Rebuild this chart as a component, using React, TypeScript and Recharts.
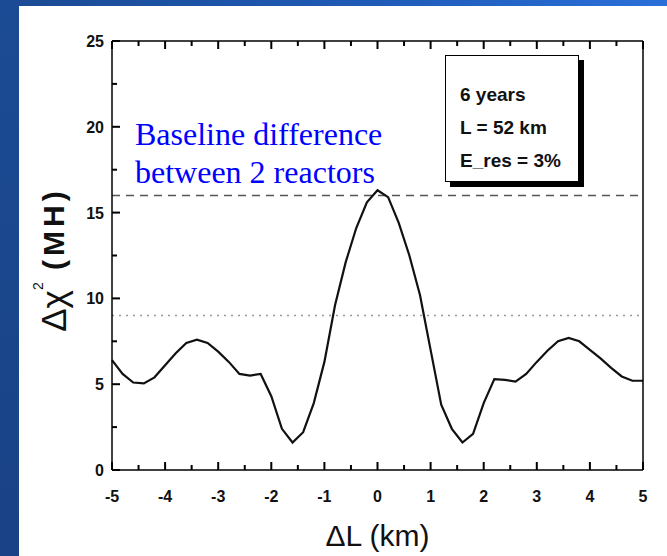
import React from 'react';
import { LineChart, Line, XAxis, YAxis, ReferenceLine, Label } from 'recharts';

// ΔL (km) sampled every 0.2 km
const deltaL = [
  -5.0, -4.8, -4.6, -4.4, -4.2, -4.0, -3.8, -3.6, -3.4, -3.2, -3.0, -2.8, -2.6, -2.4, -2.2, -2.0, -1.8,
  -1.6, -1.4, -1.2, -1.0, -0.8, -0.6, -0.4, -0.2, 0.0, 0.2, 0.4, 0.6, 0.8, 1.0, 1.2, 1.4, 1.6, 1.8, 2.0,
  2.2, 2.4, 2.6, 2.8, 3.0, 3.2, 3.4, 3.6, 3.8, 4.0, 4.2, 4.4, 4.6, 4.8, 5.0,
];
// Δχ² (MH)
const deltaChi2 = [
  6.4, 5.6, 5.1, 5.05, 5.4, 6.1, 6.8, 7.4, 7.6, 7.4, 6.9, 6.3, 5.6, 5.5, 5.6, 4.3, 2.4,
  1.6, 2.2, 3.9, 6.3, 9.6, 12.1, 14.1, 15.6, 16.3, 15.9, 14.4, 12.5, 10.2, 7.0, 3.8, 2.4, 1.6, 2.1, 3.9,
  5.3, 5.25, 5.15, 5.6, 6.3, 6.95, 7.5, 7.7, 7.5, 7.0, 6.5, 5.95, 5.45, 5.2, 5.2,
];

// major + minor tick positions (only whole steps get labels and long marks)
const xTicks = [-5, -4.5, -4, -3.5, -3, -2.5, -2, -1.5, -1, -0.5, 0, 0.5, 1, 1.5, 2, 2.5, 3, 3.5, 4, 4.5, 5];
const yTicks = [0, 2.5, 5, 7.5, 10, 12.5, 15, 17.5, 20, 22.5, 25];
const xLabelStep = 1;
const yLabelStep = 5;

const xDomain: [number, number] = [-5, 5];
const yDomain: [number, number] = [0, 25];

const mhLevel = 16; // baseline difference line
const cl3Level = 9; // dotted line

const infoLines = ['6 years', 'L = 52 km', 'E_res = 3%'];
const noteLines = ['Baseline difference', 'between 2 reactors'];

const data = deltaL.map((x, i) => ({ x, y: deltaChi2[i] }));

const sans = 'Arial, "Liberation Sans", sans-serif';
const frameLine = { stroke: '#000', strokeWidth: 1.5 };

// tick props: bottom y = axis + 20, left x = axis - 8, top y = axis + 8, right x = axis - 8
const BottomTick = (props: any) => {
  const { x, y, payload } = props;
  const major = payload.value % xLabelStep === 0;
  return (
    <g>
      <line x1={x} x2={x} y1={y - 20} y2={y - (major ? 28 : 25)} stroke="#000" strokeWidth={2} />
      {major && (
        <text x={x} y={y + 12} textAnchor="middle" fontFamily={sans} fontSize={16} fontWeight="bold" fill="#111">
          {payload.value}
        </text>
      )}
    </g>
  );
};

const LeftTick = (props: any) => {
  const { x, y, payload } = props;
  const major = payload.value % yLabelStep === 0;
  return (
    <g>
      <line x1={x + 8} x2={x + (major ? 16 : 13)} y1={y} y2={y} stroke="#000" strokeWidth={2} />
      {major && (
        <text x={x} y={y + 6} textAnchor="end" fontFamily={sans} fontSize={16} fontWeight="bold" fill="#111">
          {payload.value}
        </text>
      )}
    </g>
  );
};

const TopTick = (props: any) => {
  const { x, y, payload } = props;
  const major = payload.value % xLabelStep === 0;
  return <line x1={x} x2={x} y1={y - 8} y2={y - (major ? 0 : 3)} stroke="#000" strokeWidth={2} />;
};

const RightTick = (props: any) => {
  const { x, y, payload } = props;
  const major = payload.value % yLabelStep === 0;
  return <line x1={x + 8} x2={x + (major ? 0 : 3)} y1={y} y2={y} stroke="#000" strokeWidth={2} />;
};

const App = () => {
  return (
    <div
      style={{
        position: 'absolute',
        left: 0,
        top: 0,
        width: 667,
        height: 556,
        background: 'linear-gradient(90deg, #1a4a92 0%, #1f5ab6 55%, #2a6fd8 100%)',
      }}
    >
      <div
        style={{
          position: 'absolute',
          left: 0,
          top: 0,
          width: 19,
          height: 556,
          background: 'linear-gradient(180deg, #1b4b94 0%, #1a4286 100%)',
        }}
      />
      <div style={{ position: 'absolute', left: 19, top: 6, right: 0, bottom: 0, background: '#fff' }} />

      <div style={{ position: 'absolute', left: 0, top: 0 }}>
        <LineChart width={667} height={556} data={data} margin={{ top: 11, right: 4, bottom: 56, left: 52 }}>
          <XAxis dataKey="x" type="number" domain={xDomain} ticks={xTicks} interval={0}
            height={30} tickSize={-8} tickMargin={28} tickLine={false} tick={<BottomTick />} axisLine={frameLine}>
            <Label
              content={({ viewBox }: any) => (
                <text x={viewBox.x + viewBox.width / 2} y={viewBox.y + 76} textAnchor="middle"
                  fontFamily={sans} fontSize={30} fill="#111">
                  ΔL (km)
                </text>
              )}
            />
          </XAxis>
          <XAxis xAxisId="top" orientation="top" dataKey="x" type="number" domain={xDomain} ticks={xTicks} interval={0}
            height={30} tickSize={-8} tickMargin={0} tickLine={false} tick={<TopTick />} axisLine={frameLine} />

          <YAxis type="number" domain={yDomain} ticks={yTicks} interval={0}
            width={60} tickSize={-8} tickMargin={16} tickLine={false} tick={<LeftTick />} axisLine={frameLine}>
            <Label
              content={({ viewBox }: any) => {
                const cx = viewBox.x + viewBox.width - 59;
                const cy = viewBox.y + viewBox.height / 2 + 4;
                return (
                  <text x={cx} y={cy} transform={`rotate(-90, ${cx}, ${cy})`} textAnchor="middle"
                    dominantBaseline="central" fontFamily={sans} fill="#111">
                    <tspan fontSize={35}>Δχ</tspan>
                    <tspan fontSize={14} dy={-15}>2</tspan>
                    <tspan fontSize={30} fontWeight="bold" dy={15} letterSpacing={4}> (MH)</tspan>
                  </text>
                );
              }}
            />
          </YAxis>
          <YAxis yAxisId="right" orientation="right" type="number" domain={yDomain} ticks={yTicks} interval={0}
            width={20} tickSize={-8} tickMargin={0} tickLine={false} tick={<RightTick />} axisLine={frameLine} />

          <ReferenceLine y={mhLevel} stroke="#555" strokeWidth={1.5} strokeDasharray="8 6" />
          <ReferenceLine y={cl3Level} stroke="#999" strokeWidth={1.5} strokeDasharray="2 5" />

          <Line type="linear" dataKey="y" stroke="#111" strokeWidth={2.2} dot={false} isAnimationActive={false} />
        </LineChart>
      </div>

      <div
        style={{
          position: 'absolute',
          left: 135,
          top: 115,
          fontFamily: '"Times New Roman", "Liberation Serif", serif',
          fontSize: 32,
          lineHeight: '38px',
          color: '#0000ff',
          whiteSpace: 'nowrap',
        }}
      >
        {noteLines.map((t) => (
          <div key={t}>{t}</div>
        ))}
      </div>

      <div
        style={{
          position: 'absolute',
          left: 445,
          top: 55,
          width: 134,
          height: 127,
          border: '1.5px solid #000',
          background: '#fff',
          boxShadow: '5px 5px 0 #000',
          boxSizing: 'border-box',
          fontFamily: sans,
          fontWeight: 'bold',
          fontSize: 19,
          color: '#111',
          padding: '22px 0 0 14px',
          lineHeight: '33px',
        }}
      >
        {infoLines.map((t) => (
          <div key={t}>{t}</div>
        ))}
      </div>
    </div>
  );
};

export default App;
